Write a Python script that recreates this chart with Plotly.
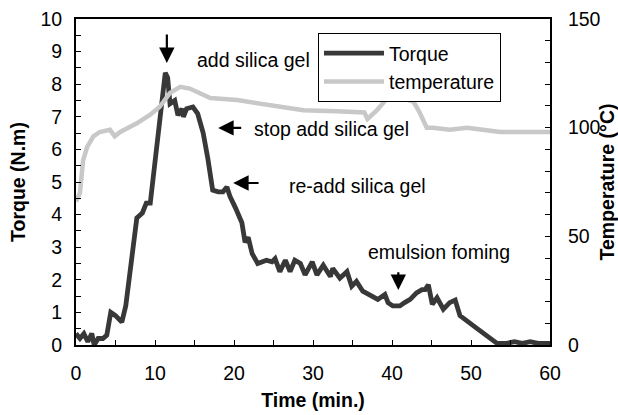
import plotly.graph_objects as go

# Torque data (time in min, torque in N.m)
torque_t = [0, 0.5, 1.0, 1.5, 2.0, 2.3, 2.8, 3.4, 3.9, 4.4, 5.0, 5.8, 6.3, 7.0, 7.7, 8.4, 8.9, 9.4,
            10.3, 11.3, 11.6, 11.9, 12.5, 12.9, 13.4, 13.6, 14.0, 14.8, 15.4, 16.1, 16.7, 17.3,
            18.0, 18.6, 19.1, 19.5, 20.2, 21.0, 21.4, 21.8, 22.3, 23.0, 24.1, 24.8, 25.2, 25.8,
            26.5, 27.1, 27.7, 28.4, 29.0, 29.9, 30.5, 31.3, 32.2, 32.5, 33.4, 34.3, 34.9, 35.5,
            36.3, 37.5, 38.2, 39.1, 39.5, 40.1, 41.0, 41.6, 42.3, 43.1, 43.8, 44.2, 44.6, 45.1,
            45.7, 46.5, 47.3, 48.0, 48.6, 50.7, 52.6, 53.3, 54.5, 55.5, 56.5, 57.5, 58.5, 60]
torque_v = [0.35, 0.2, 0.35, 0.1, 0.35, 0.0, 0.2, 0.2, 0.3, 1.0, 0.9, 0.7, 1.2, 2.6, 3.9, 4.05, 4.35, 4.35,
            6.3, 8.35, 8.2, 7.4, 7.5, 7.05, 7.25, 7.0, 7.25, 7.3, 7.1, 6.5, 5.7, 4.75,
            4.7, 4.7, 4.85, 4.55, 4.2, 3.75, 3.15, 3.3, 2.8, 2.5, 2.6, 2.55, 2.65, 2.25,
            2.6, 2.25, 2.6, 2.5, 2.15, 2.55, 2.15, 2.45, 2.1, 2.35, 2.05, 2.25, 1.8, 1.95,
            1.65, 1.5, 1.4, 1.55, 1.3, 1.2, 1.2, 1.3, 1.4, 1.6, 1.7, 1.7, 1.85, 1.25,
            1.45, 1.1, 1.3, 1.38, 0.9, 0.52, 0.15, 0.05, 0.05, 0.1, 0.05, 0.1, 0.05, 0.05]

# Temperature data (time in min, temperature in °C)
temp_t = [0, 0.1, 0.5, 0.9, 1.4, 2.2, 3.0, 4.3, 4.9, 5.6, 7.7, 9.4, 10.6, 11.9, 13.2, 14.4, 16.1,
          17.0, 20.4, 24.6, 28.8, 33.0, 36.5, 36.9, 38.1, 39.4, 40.4, 41.0, 42.7, 43.5, 44.4,
          45.2, 47.3, 49.5, 51.5, 53.7, 60]
temp_v = [66, 67, 70, 85, 91, 96, 98, 99, 96, 98, 102, 106, 109.6, 116, 118.8, 118, 115,
          113.6, 112.7, 110.4, 108, 107.5, 107, 104, 108, 113.6, 116, 114, 112, 107, 100,
          100, 99, 100, 99, 98, 98]

x_ticks = list(range(0, 61, 5))
x_labels = [str(v) if v % 10 == 0 else "" for v in x_ticks]
y_ticks = [i * 0.5 for i in range(21)]
y_labels = [str(int(v)) if v == int(v) else "" for v in y_ticks]
y2_ticks = list(range(0, 151, 10))
y2_labels = [str(v) if v % 50 == 0 else "" for v in y2_ticks]

# annotation texts (label, x, y)
labels = [("add silica gel", 15.06, 8.74),
          ("stop add silica gel", 22.28, 6.63),
          ("re-add silica gel", 26.7, 4.88),
          ("emulsion foming", 36.7, 2.85)]
# arrows (head x, head y, tail x, tail y)
arrows = [(11.5, 8.65, 11.5, 9.57),
          (18.0, 6.66, 21.1, 6.66),
          (19.9, 4.97, 23.3, 4.97),
          (40.8, 1.69, 40.8, 2.28)]

FONT = "Liberation Sans, Arial, Helvetica, sans-serif"
FS = 19.5

fig = go.Figure()
fig.add_trace(go.Scatter(x=torque_t, y=torque_v, mode="lines", name="Torque",
                         line=dict(color="#383838", width=4.8), yaxis="y"))
fig.add_trace(go.Scatter(x=temp_t, y=temp_v, mode="lines", name="temperature",
                         line=dict(color="#c8c8c8", width=4.5), yaxis="y2"))

annotations = []
for txt, x, y in labels:
    annotations.append(dict(text=txt, x=x, y=y, xref="x", yref="y", xanchor="left",
                            yanchor="middle", showarrow=False,
                            font=dict(size=FS, color="black", family=FONT)))
for hx, hy, tx, ty in arrows:
    annotations.append(dict(text="", x=hx, y=hy, ax=tx, ay=ty, xref="x", yref="y",
                            axref="x", ayref="y", showarrow=True, arrowhead=2,
                            arrowsize=1.4, arrowwidth=2.2, arrowcolor="black"))

fig.update_layout(
    width=618, height=415,
    margin=dict(l=76, r=68, t=19, b=70),
    paper_bgcolor="white", plot_bgcolor="white",
    font=dict(family=FONT, size=FS, color="black"),
    showlegend=True,
    legend=dict(x=0.5105, y=0.957, xanchor="left", yanchor="top",
                bordercolor="black", borderwidth=1, bgcolor="white",
                font=dict(size=FS), tracegroupgap=0, itemwidth=60),
    xaxis=dict(range=[0, 60], tickvals=x_ticks, ticktext=x_labels, ticks="inside",
               ticklen=5, tickcolor="black", showline=True, linecolor="black", linewidth=2,
               mirror=True, showgrid=False, zeroline=False, ticklabelstandoff=10,
               automargin=False,
               title=dict(text="<b>Time (min.)</b>", font=dict(size=FS), standoff=10)),
    yaxis=dict(range=[0, 10], tickvals=y_ticks, ticktext=y_labels, ticks="inside",
               ticklen=5, tickcolor="black", showline=True, linecolor="black", linewidth=2,
               mirror=True, showgrid=False, zeroline=False, ticklabelstandoff=8,
               automargin=False,
               title=dict(text="<b>Torque (N.m)</b>", font=dict(size=FS), standoff=10)),
    yaxis2=dict(range=[0, 150], overlaying="y", side="right", tickvals=y2_ticks,
                ticktext=y2_labels, ticks="inside", ticklen=5, tickcolor="black",
                showline=True, linecolor="black", linewidth=2, showgrid=False,
                zeroline=False, ticklabelstandoff=12, automargin=False,
                title=dict(text="<b>Temperature (°C)</b>", font=dict(size=FS), standoff=8)),
    annotations=annotations,
)

fig.write_html("out.html", config={"displayModeBar": False},
               post_script="document.body.style.margin='0';document.body.style.overflow='hidden';")
